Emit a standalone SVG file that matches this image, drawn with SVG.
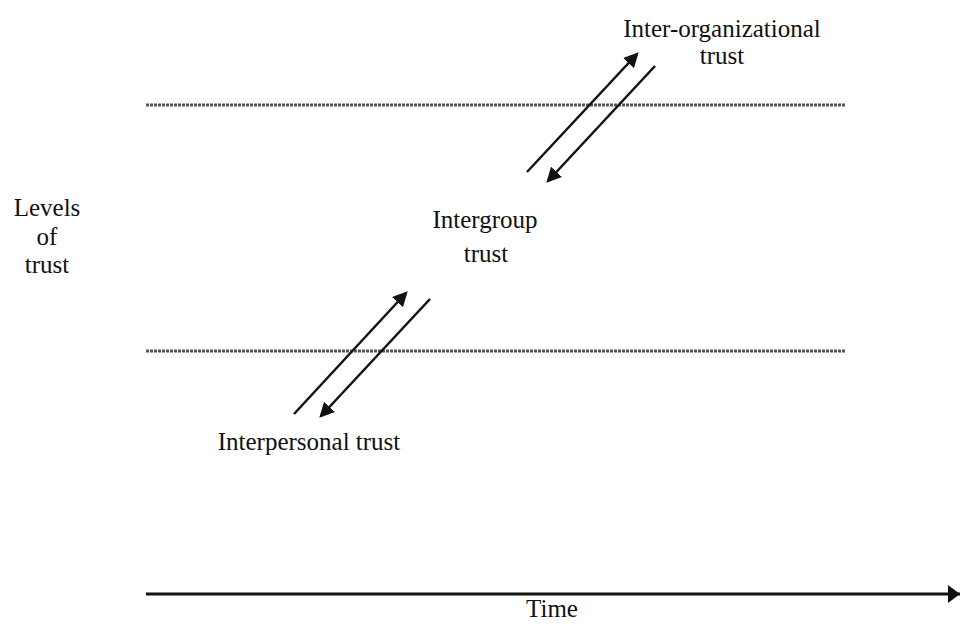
<svg xmlns="http://www.w3.org/2000/svg" width="961" height="624" viewBox="0 0 961 624">
<style>
text{font-family:"Liberation Serif","Times New Roman",serif;font-size:25px;fill:#111;text-anchor:middle}
.level{stroke:#555;stroke-width:3;stroke-dasharray:3 1}
.arr{stroke:#111;stroke-width:2.5;fill:none}
.axis{stroke:#111;stroke-width:3;fill:none}
</style>
<defs>
<marker id="ah" markerWidth="6" markerHeight="6" refX="5" refY="3" orient="auto" markerUnits="strokeWidth">
<path d="M0,0 L6,3 L0,6 Z" fill="#111"/>
</marker>
<marker id="ah2" markerWidth="4" markerHeight="6" refX="4" refY="3" orient="auto" markerUnits="strokeWidth">
<path d="M0,0 L4,3 L0,6 Z" fill="#111"/>
</marker>
</defs>
<g id="levels">
<line class="level" x1="146" y1="105" x2="845" y2="105"/>
<line class="level" x1="146" y1="351" x2="845" y2="351"/>
</g>
<g id="connectors">
<line class="arr" x1="527" y1="172" x2="637" y2="54" marker-end="url(#ah)"/>
<line class="arr" x1="655" y1="66" x2="548" y2="181" marker-end="url(#ah)"/>
<line class="arr" x1="294" y1="414" x2="406" y2="293" marker-end="url(#ah)"/>
<line class="arr" x1="430" y1="299" x2="321" y2="416" marker-end="url(#ah)"/>
<line class="axis" x1="146" y1="594" x2="960" y2="594" marker-end="url(#ah2)"/>
</g>
<g id="inter-organizational">
<text x="722" y="37">Inter-organizational</text>
<text x="722" y="64">trust</text>
</g>
<g id="intergroup">
<text x="485" y="228">Intergroup</text>
<text x="486" y="262">trust</text>
</g>
<g id="interpersonal">
<text x="309" y="450">Interpersonal trust</text>
</g>
<g id="levels-label">
<text x="47" y="216">Levels</text>
<text x="47" y="245">of</text>
<text x="47" y="273">trust</text>
</g>
<g id="time-label">
<text x="552" y="617">Time</text>
</g>
</svg>
